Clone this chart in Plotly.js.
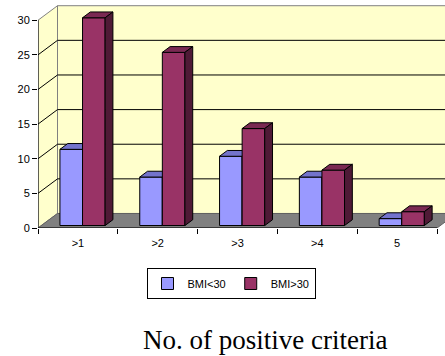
<!DOCTYPE html>
<html>
<head>
<meta charset="utf-8">
<script src="https://cdn.plot.ly/plotly-3.0.1.min.js"></script>
<style>html,body{margin:0;padding:0;overflow:hidden;background:#fff}</style>
</head>
<body>
<div id="chart" style="width:445px;height:356px"></div>
<script>
// ---- data ----
const categories = ['>1', '>2', '>3', '>4', '5'];
const bmiUnder30 = [11, 7, 10, 7, 1];
const bmiOver30 = [30, 25, 14, 8, 2];
const yTicks = [0, 5, 10, 15, 20, 25, 30];
const seriesNames = ['BMI<30', 'BMI>30'];

// ---- 3D look geometry (data units) ----
const DX = 0.2444, DY = 2.097;      // wall depth
const F0 = 0.17, F1 = 0.57;          // bar front / back depth fraction
const BAR_W = 0.283;
const OFFS = [-0.225, 0.058];
const yMax = 30;
const xLo = -0.5, xHi = categories.length - 0.5;
const idx = categories.map((c, i) => i);

function poly(pts) { return {x: pts.map(p => p[0]).concat([pts[0][0], null]), y: pts.map(p => p[1]).concat([pts[0][1], null])}; }
function merge(list) { return {x: [].concat(...list.map(p => p.x)), y: [].concat(...list.map(p => p.y))}; }

const traces = [];
// side wall
const side = poly([[xLo, 0], [xLo, yMax], [xLo + DX, yMax + DY], [xLo + DX, DY]]);
traces.push({type: 'scatter', mode: 'lines', x: side.x, y: side.y, fill: 'toself', fillcolor: '#FFFFCC', line: {color: '#808080', width: 1}, hoverinfo: 'skip', showlegend: false});
// back wall
const back = poly([[xLo + DX, DY], [xLo + DX, yMax + DY], [xHi + DX, yMax + DY], [xHi + DX, DY]]);
traces.push({type: 'scatter', mode: 'lines', x: back.x, y: back.y, fill: 'toself', fillcolor: '#FFFFCC', line: {color: '#808080', width: 1}, hoverinfo: 'skip', showlegend: false});
// gridlines
const gx = [], gy = [];
yTicks.filter(v => v > 0 && v < yMax).forEach(v => {
  gx.push(xLo, xLo + DX, xHi + DX, null);
  gy.push(v, v + DY, v + DY, null);
});
traces.push({type: 'scatter', mode: 'lines', x: gx, y: gy, line: {color: '#000', width: 1}, hoverinfo: 'skip', showlegend: false});
// floor
const floor = poly([[xLo, 0], [xHi, 0], [xHi + DX, DY], [xLo + DX, DY]]);
traces.push({type: 'scatter', mode: 'lines', x: floor.x, y: floor.y, fill: 'toself', fillcolor: '#808080', line: {color: '#606060', width: 1}, hoverinfo: 'skip', showlegend: false});
// front axis lines
traces.push({type: 'scatter', mode: 'lines', x: [xLo, xLo, null, xLo, xHi], y: [yMax, 0, null, 0, 0], line: {color: '#000', width: 1}, hoverinfo: 'skip', showlegend: false});

// bars: each series in its own overlaid subplot so faces stack correctly
const series = [bmiUnder30, bmiOver30];
const fronts = ['#9999FF', '#993366'];
const tops = ['#7373CC', '#7A2952'];
const sides = ['#5C5CA3', '#4F1A36'];
const y0 = F0 * DY, bdx = (F1 - F0) * DX, bdy = (F1 - F0) * DY;
series.forEach((vals, s) => {
  const xa = 'x' + (s + 2), ya = 'y' + (s + 2);
  traces.push({type: 'bar', name: seriesNames[s], x: idx, y: vals, base: y0, width: BAR_W, offset: OFFS[s],
    marker: {color: fronts[s], line: {color: '#000', width: 1}}, xaxis: xa, yaxis: ya, hoverinfo: 'skip'});
  const topP = merge(vals.map((v, i) => { const L = i + OFFS[s], R = L + BAR_W, T = y0 + v;
    return poly([[L, T], [R, T], [R + bdx, T + bdy], [L + bdx, T + bdy]]); }));
  const sideP = merge(vals.map((v, i) => { const R = i + OFFS[s] + BAR_W, T = y0 + v;
    return poly([[R, y0], [R, T], [R + bdx, T + bdy], [R + bdx, y0 + bdy]]); }));
  traces.push({type: 'scatter', mode: 'lines', x: topP.x, y: topP.y, fill: 'toself', fillcolor: tops[s], line: {color: '#000', width: 1}, xaxis: xa, yaxis: ya, hoverinfo: 'skip', showlegend: false});
  traces.push({type: 'scatter', mode: 'lines', x: sideP.x, y: sideP.y, fill: 'toself', fillcolor: sides[s], line: {color: '#000', width: 1}, xaxis: xa, yaxis: ya, hoverinfo: 'skip', showlegend: false});
});

const XR = [-0.5, 4.6], YR = [0, 32.2];
const font = {family: 'Liberation Sans, Arial, sans-serif', size: 11, color: '#000'};
const hidden = {range: XR, visible: false, fixedrange: true};
const layout = {
  width: 445, height: 356,
  margin: {l: 38, r: 0, t: 5, b: 128},
  paper_bgcolor: '#fff', plot_bgcolor: 'rgba(0,0,0,0)',
  font: font,
  barmode: 'overlay',
  showlegend: true,
  xaxis: {range: XR, tickmode: 'array', tickvals: idx, ticktext: categories, ticks: '', showgrid: false, zeroline: false, showline: false, tickfont: font, ticklabelstandoff: 7, fixedrange: true},
  yaxis: {range: YR, tickmode: 'array', tickvals: yTicks, ticks: 'outside', ticklen: 5, tickcolor: '#000', showgrid: false, zeroline: false, showline: false, tickfont: font, fixedrange: true},
  xaxis2: {range: XR, overlaying: 'x', anchor: 'y2', tickmode: 'array', tickvals: idx.map(i => i - 0.5).concat([xHi]), ticks: 'outside', ticklen: 5, tickcolor: '#000', showticklabels: false, showgrid: false, zeroline: false, showline: false, fixedrange: true},
  yaxis2: {range: YR, overlaying: 'y', visible: false, fixedrange: true},
  xaxis3: Object.assign({overlaying: 'x', anchor: 'y3'}, hidden),
  yaxis3: {range: YR, overlaying: 'y', visible: false, fixedrange: true},
  legend: {orientation: 'h', xref: 'container', yref: 'container', x: 231 / 445, xanchor: 'center', y: 1 - 268 / 356, yanchor: 'top',
    bgcolor: '#fff', bordercolor: '#000', borderwidth: 1, font: font, itemwidth: 30, tracegroupgap: 0},
  annotations: [{text: 'No. of positive criteria', xref: 'paper', yref: 'paper', x: (265 - 38) / 407, y: (228 - 339.5) / 223, xanchor: 'center', yanchor: 'middle', showarrow: false,
    font: {family: 'Liberation Serif, Times New Roman, serif', size: 27, color: '#000'}}]
};
Plotly.newPlot('chart', traces, layout, {displayModeBar: false, staticPlot: true});
</script>
</body>
</html>
